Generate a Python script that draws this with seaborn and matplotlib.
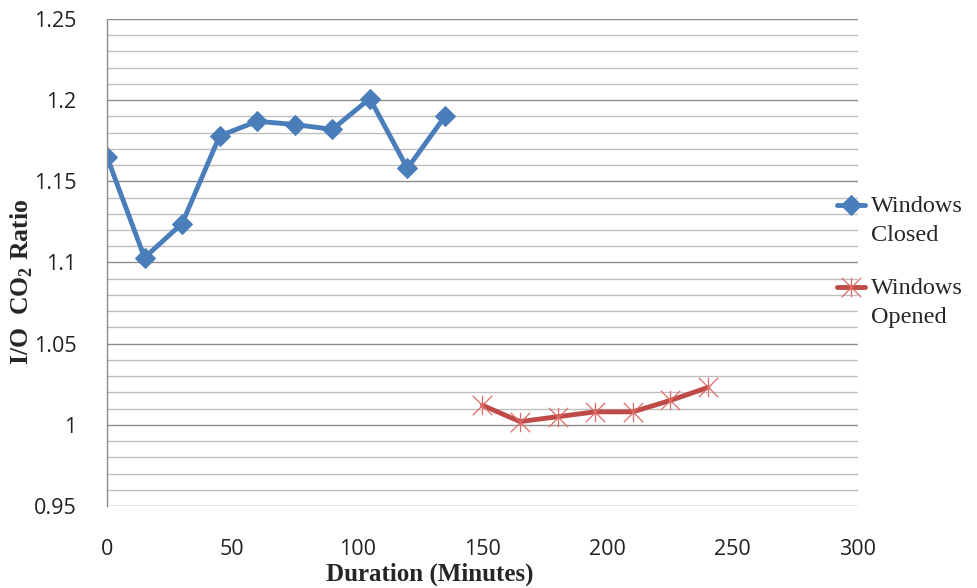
import matplotlib
matplotlib.use("Agg")
import matplotlib.pyplot as plt
from matplotlib.path import Path
from matplotlib.legend_handler import HandlerLine2D
import seaborn as sns
import pandas as pd
import numpy as np

closed_x = [0, 15, 30, 45, 60, 75, 90, 105, 120, 135]
closed_y = [1.165, 1.103, 1.124, 1.178, 1.187, 1.185, 1.182, 1.201, 1.158, 1.190]
opened_x = [150, 165, 180, 195, 210, 225, 240]
opened_y = [1.012, 1.002, 1.005, 1.008, 1.008, 1.015, 1.023]
x_ticks = [0, 50, 100, 150, 200, 250, 300]
y_ticks = [0.95, 1.0, 1.05, 1.1, 1.15, 1.2, 1.25]
y_tick_labels = ["0.95", "1", "1.05", "1.1", "1.15", "1.2", "1.25"]

sns.set_style("white")
plt.rcParams["mathtext.fontset"] = "custom"
plt.rcParams["mathtext.bf"] = "Liberation Serif:bold"
plt.rcParams["mathtext.rm"] = "Liberation Serif"

df_closed = pd.DataFrame({"x": closed_x, "y": closed_y})
df_opened = pd.DataFrame({"x": opened_x, "y": opened_y})

# Excel-style star marker: X with a vertical stroke
star = Path([(0, -1), (0, 1), (-1, -1), (1, 1), (-1, 1), (1, -1)],
            [Path.MOVETO, Path.LINETO, Path.MOVETO, Path.LINETO, Path.MOVETO, Path.LINETO])


class TopHandler(HandlerLine2D):
    def create_artists(self, legend, orig_handle, xdescent, ydescent, width, height,
                       fontsize, trans):
        arts = super().create_artists(legend, orig_handle, xdescent, ydescent, width,
                                      height, fontsize, trans)
        for a in arts:
            a.set_ydata(np.asarray(a.get_ydata()) + 11.0)
        return arts


fig = plt.figure(figsize=(9.78, 5.88), dpi=100)
ax = fig.add_axes([107/978, 1-506/588, (858-107)/978, (506-19)/588])

blue = "#4A7EBB"
red = "#BE4B48"

sns.lineplot(data=df_closed, x="x", y="y", ax=ax, color=blue, linewidth=3.5,
             marker="D", markersize=10.5, markeredgecolor=blue, label="Windows\nClosed")
sns.lineplot(data=df_opened, x="x", y="y", ax=ax, color=red, linewidth=3.5,
             marker=star, markersize=14, markeredgecolor="#E06A66",
             markeredgewidth=0.9, label="Windows\nOpened")

ax.set_xlim(0, 300)
ax.set_ylim(0.95, 1.25)
ax.set_xticks(x_ticks)
ax.set_yticks(y_ticks)
ax.set_yticklabels(y_tick_labels)
ax.set_yticks(np.round(np.arange(0.95, 1.2501, 0.01), 3), minor=True)
ax.grid(False)
ax.grid(True, axis="y", which="major", color="#8C8C8C", linewidth=1.0)
ax.grid(True, axis="y", which="minor", color="#BEBEBE", linewidth=1.0)
ax.set_axisbelow(True)

for s in ["top", "right", "bottom"]:
    ax.spines[s].set_visible(False)
ax.spines["left"].set_color("#8C8C8C")
ax.spines["left"].set_linewidth(1.0)

ax.tick_params(axis="both", which="both", length=0)
ax.tick_params(axis="x", pad=24, labelsize=15.5)
ax.tick_params(axis="y", pad=22, labelsize=15.5)
for lab in ax.get_xticklabels() + ax.get_yticklabels():
    lab.set_fontfamily("Open Sans")
    lab.set_color("#222222")

ax.set_xlabel("Duration (Minutes)", fontfamily="Liberation Serif", fontweight="bold",
              fontsize=18, va="center")
ax.xaxis.set_label_coords((430-107)/751, (506-574)/487)
ax.set_ylabel(r"I/O  CO$_\mathbf{2}$ Ratio", fontfamily="Liberation Serif",
              fontweight="bold", fontsize=18.5, va="center")
ax.yaxis.set_label_coords((22-107)/751, (506-282)/487)

handles, labels = ax.get_legend_handles_labels()
leg = ax.legend(handles, labels, loc="center left", bbox_to_anchor=(837/978, 1-262/588),
                bbox_transform=fig.transFigure, frameon=False,
                prop={"family": "Liberation Serif", "size": 17.5},
                handlelength=1.15, handletextpad=0.25, labelspacing=1.3,
                borderaxespad=0, borderpad=0,
                handler_map={h: TopHandler() for h in handles})
for t in leg.get_texts():
    t.set_linespacing(1.5)

fig.savefig("out.png", dpi=100)
